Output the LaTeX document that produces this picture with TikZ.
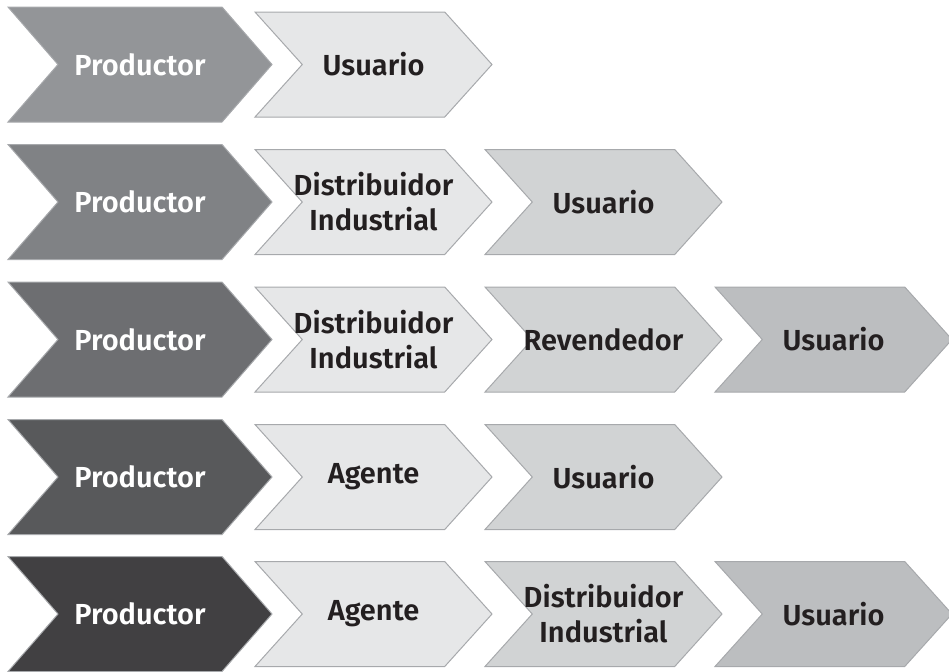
\documentclass[tikz,border=0pt]{standalone}
\usepackage{fontspec}
\setmainfont{Fira Sans}[BoldFont={Fira Sans SemiBold}]
\usetikzlibrary{shapes.symbols}

\definecolor{gA}{HTML}{939598}
\definecolor{gB}{HTML}{808285}
\definecolor{gC}{HTML}{6D6E71}
\definecolor{gD}{HTML}{58595B}
\definecolor{gE}{HTML}{414042}
\definecolor{lA}{HTML}{E6E7E8}
\definecolor{lB}{HTML}{D1D3D4}
\definecolor{lC}{HTML}{BCBEC0}
\definecolor{edge}{HTML}{A7A9AC}
\definecolor{ink}{HTML}{231F20}

\begin{document}
\begin{tikzpicture}[x=0.5pt,y=-0.5pt,
	chev/.style={signal, signal from=west, signal to=east, draw=edge, line width=0.5pt,
		inner xsep=-30pt, inner ysep=0pt, align=center, font=\fontsize{14.5}{17.5}\selectfont\bfseries},
	prod/.style={chev, signal pointer angle=98, minimum width=132pt, minimum height=57.5pt, text=white},
	step1/.style={chev, signal pointer angle=96, minimum width=118.5pt, minimum height=52.5pt, fill=lA, text=ink},
	step2/.style={step1, fill=lB},
	step3/.style={step1, fill=lC}]
	
	\useasboundingbox (0,0) rectangle (949,671);
	
	% fila 1
	\node[prod, fill=gA] (P1) at (140,64.5) {Productor};
	\node[step1] (U1) at (373.5,64.5) {Usuario};
	
	% fila 2
	\node[prod, fill=gB] (P2) at (140,202) {Productor};
	\node[step1] (D2) at (373.5,202) {Distribuidor\\Industrial};
	\node[step2] (U2) at (603.5,202) {Usuario};
	
	% fila 3
	\node[prod, fill=gC] (P3) at (140,339.5) {Productor};
	\node[step1] (D3) at (373.5,339.5) {Distribuidor\\Industrial};
	\node[step2] (R3) at (603.5,339.5) {Revendedor};
	\node[step3] (U3) at (833.5,339.5) {Usuario};
	
	% fila 4
	\node[prod, fill=gD] (P4) at (140,477) {Productor};
	\node[step1] (A4) at (373.5,477) {Agente};
	\node[step2] (U4) at (603.5,477) {Usuario};
	
	% fila 5
	\node[prod, fill=gE] (P5) at (140,614) {Productor};
	\node[step1] (A5) at (373.5,614) {Agente};
	\node[step2] (D5) at (603.5,614) {Distribuidor\\Industrial};
	\node[step3] (U5) at (833.5,614) {Usuario};
	
\end{tikzpicture}
\end{document}
